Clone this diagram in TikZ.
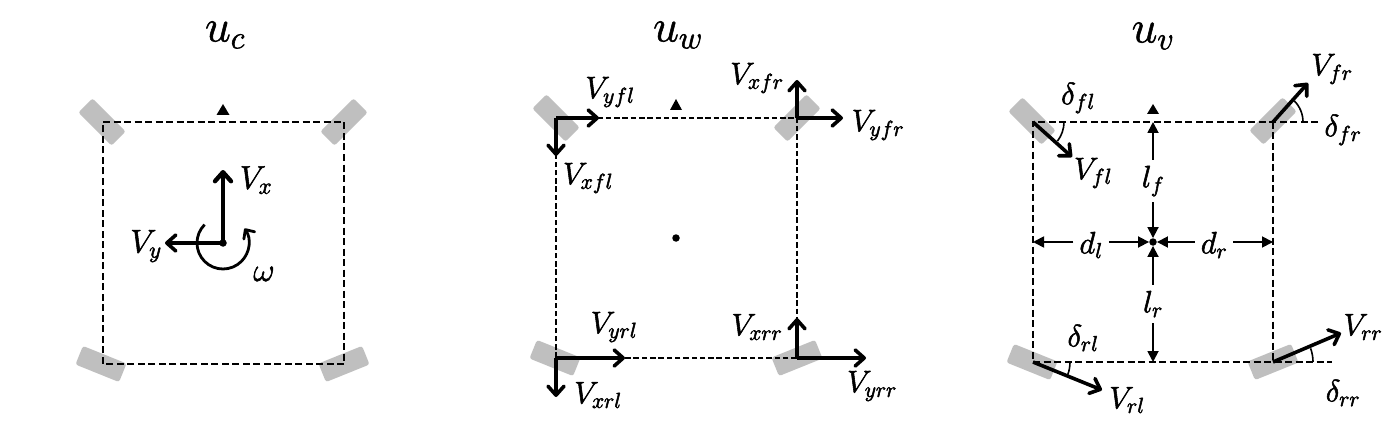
\documentclass[tikz,border=0pt]{standalone}
\usepackage{fix-cm}
\usetikzlibrary{arrows.meta}
\definecolor{wheelgray}{HTML}{BFBFBF}
\newcommand{\heavytext}[1]{\special{pdf:code 2 Tr 0.55 w}#1\special{pdf:code 0 Tr}}
\tikzset{
  wheel/.style={fill=wheelgray,draw=none,rounded corners=2.5pt,minimum width=47pt,minimum height=20pt,inner sep=0pt},
  carbox/.style={line width=1.9pt,dash pattern=on 7pt off 3.5pt},
  carboxb/.style={line width=1.7pt,dash pattern=on 5.5pt off 2.8pt},
  vec/.style={line width=3.6pt,-{Straight Barb[round,length=9pt,width=16pt,line width=3.6pt]}},
  vecx/.style={line width=4.4pt,-{Straight Barb[round,length=9pt,width=16pt,line width=4.4pt]}},
  dimline/.style={line width=1.8pt,-{Triangle[length=11pt,width=11pt]}},
  anglearc/.style={line width=1.6pt},
  spin/.style={line width=2.8pt,-{Straight Barb[round,length=7pt,width=13pt,line width=2.8pt]}},
  title/.style={inner sep=0pt,font=\fontsize{46}{54}\selectfont},
  biglab/.style={inner sep=0pt,font=\fontsize{33}{40}\selectfont},
  lab/.style={inner sep=0pt,font=\fontsize{31}{37}\selectfont},
  dimlab/.style={inner sep=6pt,font=\fontsize{31}{37}\selectfont},
  dot/.style={circle,fill=black,inner sep=0pt,minimum size=7.5pt},
  marker/.style={fill=black},
}
\begin{document}
\begin{tikzpicture}[x=1pt,y=-1pt]
\useasboundingbox (0,0) rectangle (1400,441);
\fill[white] (0,0) rectangle (1400,441);
% ---------- panel 1
\node[title] (t1) at (225,35) {\heavytext{$u_c$}};
\node[wheel,rotate=-45] (a1) at (102,122) {};
\node[wheel,rotate=45] (a2) at (344,122) {};
\node[wheel,rotate=-22] (a3) at (101,364) {};
\node[wheel,rotate=22] (a4) at (344,364) {};
\coordinate (atl) at (103,122);
\coordinate (atr) at (344,122);
\coordinate (abr) at (344,364);
\coordinate (abl) at (103,364);
\draw[carbox] (atl) -- (atr) -- (abr) -- (abl) -- cycle;
\fill[marker] (216.5,115) -- (223,104) -- (229.5,115) -- cycle;
\node[dot] (ac) at (223,243) {};
\coordinate (avx) at (223,170);
\coordinate (avy) at (165,243);
\draw[vec] (ac.center) -- (avy);
\draw[vecx] (ac.center) -- (avx);
\draw[spin] (ac.center) ++(225:26) arc[start angle=225,end angle=-34,radius=26];
\node[biglab] (avxl) at (256,180) {\heavytext{$V_x$}};
\node[biglab] (avyl) at (146,246) {\heavytext{$V_y$}};
\node[biglab] (aw) at (264,274) {\heavytext{$\omega$}};
% ---------- panel 2
\node[title] (t2) at (678,35) {\heavytext{$u_w$}};
\node[wheel,rotate=-45] (b1) at (556,118) {};
\node[wheel,rotate=45] (b2) at (797,118) {};
\node[wheel,rotate=-22] (b3) at (555,358) {};
\node[wheel,rotate=22] (b4) at (797,358) {};
\coordinate (btl) at (556,118);
\coordinate (btr) at (797,118);
\coordinate (bbr) at (797,358);
\coordinate (bbl) at (556,358);
\draw[carboxb] (btl) -- (btr) -- (bbr) -- (bbl) -- cycle;
\fill[marker] (670,110) -- (676,99) -- (682,110) -- cycle;
\node[dot] (bc) at (676,238) {};
\coordinate (b1x) at (556,156);
\coordinate (b1y) at (599,118);
\coordinate (b2x) at (797,80);
\coordinate (b2y) at (843,118);
\coordinate (b3x) at (556,397);
\coordinate (b3y) at (625,358);
\coordinate (b4x) at (797,318);
\coordinate (b4y) at (866,358);
\draw[vec] (btl) -- (b1x);
\draw[vec] (btl) -- (b1y);
\draw[vec] (btr) -- (b2x);
\draw[vec] (btr) -- (b2y);
\draw[vec] (bbl) -- (b3x);
\draw[vec] (bbl) -- (b3y);
\draw[vec] (bbr) -- (b4x);
\draw[vec] (bbr) -- (b4y);
\node[lab] (l1) at (610,92) {\heavytext{$V_{yfl}$}};
\node[lab] (l2) at (588,178) {\heavytext{$V_{xfl}$}};
\node[lab] (l3) at (757,78) {\heavytext{$V_{xfr}$}};
\node[lab] (l4) at (878,125) {\heavytext{$V_{yfr}$}};
\node[lab] (l5) at (614,327) {\heavytext{$V_{yrl}$}};
\node[lab] (l6) at (598,395) {\heavytext{$V_{xrl}$}};
\node[lab] (l7) at (757,327) {\heavytext{$V_{xrr}$}};
\node[lab] (l8) at (872,386) {\heavytext{$V_{yrr}$}};
% ---------- panel 3
\node[title] (t3) at (1153,36) {\heavytext{$u_v$}};
\node[wheel,rotate=-45] (c1) at (1032,121) {};
\node[wheel,rotate=45] (c2) at (1273,121) {};
\node[wheel,rotate=-22] (c3) at (1032,362) {};
\node[wheel,rotate=22] (c4) at (1273,362) {};
\coordinate (ctl) at (1033,122);
\coordinate (ctr) at (1273,122);
\coordinate (cbr) at (1273,362);
\coordinate (cbl) at (1033,362);
\coordinate (cte) at (1318,122);
\coordinate (cbe) at (1332,362);
\draw[carbox] (cte) -- (ctl) -- (cbl) -- (cbe);
\draw[carbox] (ctr) -- (cbr);
\fill[marker] (1147,114) -- (1153,104) -- (1159,114) -- cycle;
\node[dot] (cc) at (1153,242) {};
\coordinate (ct) at (1153,122);
\coordinate (cb) at (1153,362);
\coordinate (cl) at (1033,242);
\coordinate (cr) at (1273,242);
\coordinate (c1v) at (1072,157);
\coordinate (c2v) at (1308,83);
\coordinate (c3v) at (1102,390);
\coordinate (c4v) at (1341,333);
\draw[vec] (ctl) -- (c1v);
\draw[vec] (ctr) -- (c2v);
\draw[vec] (cbl) -- (c3v);
\draw[vec] (cbr) -- (c4v);
\draw[anglearc] (ctl) ++(0:31) arc[start angle=0,end angle=38,radius=31];
\draw[anglearc] (ctr) ++(0:30) arc[start angle=0,end angle=-45,radius=30];
\draw[anglearc] (cbl) ++(0:37) arc[start angle=0,end angle=20,radius=37];
\draw[anglearc] (cbr) ++(0:40) arc[start angle=0,end angle=-20,radius=40];
\node[dimlab] (lf) at (1153,181) {\heavytext{$l_f$}};
\node[dimlab] (lr) at (1153,304) {\heavytext{$l_r$}};
\node[dimlab] (dl) at (1091,245) {\heavytext{$d_l$}};
\node[dimlab] (dr) at (1214,245) {\heavytext{$d_r$}};
\draw[dimline] (lf.north) -- (ct);
\draw[dimline] (lf.south) -- (cc.north);
\draw[dimline] (lr.north) -- (cc.south);
\draw[dimline] (lr.south) -- (cb);
\draw[dimline] (dl.west |- cc) -- (cl);
\draw[dimline] (dl.east |- cc) -- (cc.west);
\draw[dimline] (dr.west |- cc) -- (cc.east);
\draw[dimline] (dr.east |- cc) -- (cr);
\node[lab] (m1) at (1078,98) {\heavytext{$\delta_{fl}$}};
\node[lab] (m2) at (1093,173) {\heavytext{$V_{fl}$}};
\node[lab] (m3) at (1343,130) {\heavytext{$\delta_{fr}$}};
\node[lab] (m4) at (1332,69) {\heavytext{$V_{fr}$}};
\node[lab] (m5) at (1083,338) {\heavytext{$\delta_{rl}$}};
\node[lab] (m6) at (1127,400) {\heavytext{$V_{rl}$}};
\node[lab] (m7) at (1363,327) {\heavytext{$V_{rr}$}};
\node[lab] (m8) at (1343,393) {\heavytext{$\delta_{rr}$}};
\end{tikzpicture}
\end{document}
